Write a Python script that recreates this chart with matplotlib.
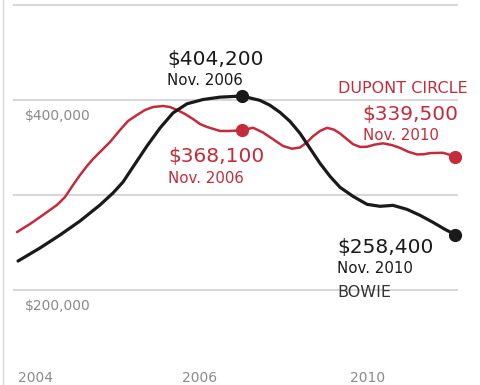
import matplotlib
matplotlib.use('Agg')
import matplotlib.pyplot as plt

# Median sale price, decimal year vs. dollars
dupont_years = [2002.612, 2002.856, 2003.100, 2003.362, 2003.513, 2003.663, 2003.794, 2003.925,
                2004.038, 2004.207, 2004.357, 2004.544, 2004.695, 2004.863, 2005.014, 2005.164,
                2005.351, 2005.482, 2005.614, 2005.764, 2005.914, 2006.045, 2006.177, 2006.421,
                2006.608, 2006.833, 2007.040, 2007.227, 2007.415, 2007.603, 2007.771, 2007.922,
                2008.053, 2008.166, 2008.297, 2008.428, 2008.559, 2008.672, 2008.803, 2008.916,
                2009.047, 2009.178, 2009.329, 2009.479, 2009.648, 2009.798, 2009.948, 2010.117,
                2010.248, 2010.361, 2010.492, 2010.605, 2010.717, 2010.830]
dupont_price = [261000, 269500, 279000, 289500, 297900, 310500, 321000, 330500,
                337900, 347400, 355800, 368400, 377900, 384200, 389500, 392600,
                393700, 392600, 389500, 385300, 380000, 374700, 371600, 367400,
                367400, 368100, 370800, 365800, 358700, 351600, 348700, 350000,
                355500, 361900, 367400, 370700, 368800, 364800, 358700, 353500,
                350600, 350800, 353100, 354400, 352500, 349600, 345600, 342700,
                342900, 344100, 344300, 344400, 342500, 339500]

bowie_years = [2002.631, 2003.043, 2003.419, 2003.794, 2004.169, 2004.413, 2004.601, 2004.788,
               2005.051, 2005.295, 2005.539, 2005.801, 2006.102, 2006.421, 2006.833, 2007.171,
               2007.359, 2007.546, 2007.734, 2007.922, 2008.109, 2008.297, 2008.485, 2008.672,
               2008.916, 2009.178, 2009.422, 2009.666, 2009.929, 2010.173, 2010.417, 2010.642,
               2010.830]
bowie_price = [230500, 244200, 257900, 272600, 289500, 302100, 313700, 329500,
               351600, 370500, 386400, 396000, 400500, 403000, 404200, 399600,
               394400, 387000, 377500, 364900, 349100, 333300, 319600, 308100,
               298600, 290200, 288100, 289100, 284900, 278600, 271200, 263800,
               258400]

grid_values = [500000, 400000, 300000, 200000]
price_labels = ['$400,000', '$200,000']
price_label_values = [400000, 200000]
year_labels = ['2004', '2006', '2010']
year_label_pos = [2002.95, 2006.045, 2009.18]

red = '#c42b3b'
dark = '#1a1a1a'
gray = '#8a8a8a'

fig = plt.figure(figsize=(4.81, 3.85), dpi=100)
ax = fig.add_axes([0, 0, 1, 1])
ax.set_xlim(2002.293, 2011.317)
ax.set_ylim(100000, 505263)
ax.axis('off')

# left frame rule
ax.plot([0.007, 0.007], [0, 1], transform=ax.transAxes, color='#d8d8d8', lw=1)

ax.hlines(grid_values, 2002.54, 2010.89, color='#cfcfcf', lw=1.2, zorder=1)

for lab, v in zip(price_labels, price_label_values):
    ax.text(2002.762, v - 21052, lab, fontsize=10, color=gray, va='baseline', ha='left')

for lab, x in zip(year_labels, year_label_pos):
    ax.text(x, 103167, lab, fontsize=10, color=gray, va='baseline', ha='center')

ax.plot(dupont_years, dupont_price, color=red, lw=1.8,
        solid_capstyle='round', solid_joinstyle='round', zorder=3)
ax.plot(bowie_years, bowie_price, color=dark, lw=2.3,
        solid_capstyle='round', solid_joinstyle='round', zorder=4)

# Nov. 2006 and Nov. 2010 markers
d06 = dupont_years.index(2006.833)
b06 = bowie_years.index(2006.833)
ax.plot([dupont_years[d06], dupont_years[-1]], [dupont_price[d06], dupont_price[-1]],
        'o', color=red, ms=8.5, zorder=5)
ax.plot([bowie_years[b06], bowie_years[-1]], [bowie_price[b06], bowie_price[-1]],
        'o', color=dark, ms=8.5, zorder=5)

# callouts
ax.text(2005.426, 436841, f'${bowie_price[b06]:,}', fontsize=14.5, color=dark, va='baseline')
ax.text(2005.426, 415789, 'Nov. 2006', fontsize=10.8, color=dark, va='baseline')

ax.text(2005.445, 334739, f'${dupont_price[d06]:,}', fontsize=14.5, color=red, va='baseline')
ax.text(2005.445, 312634, 'Nov. 2006', fontsize=10.8, color=red, va='baseline')

ax.text(2008.635, 407368, 'DUPONT CIRCLE', fontsize=11.5, color=red, va='baseline')
ax.text(2009.085, 378948, f'${dupont_price[-1]:,}', fontsize=14.5, color=red, va='baseline')
ax.text(2009.104, 357896, 'Nov. 2010', fontsize=10.8, color=red, va='baseline')

ax.text(2008.616, 238952, f'${bowie_price[-1]:,}', fontsize=14.5, color=dark, va='baseline')
ax.text(2008.616, 217900, 'Nov. 2010', fontsize=10.8, color=dark, va='baseline')
ax.text(2008.616, 192638, 'BOWIE', fontsize=11.5, color='#333333', va='baseline')

fig.savefig('out.png', dpi=100, facecolor='white')
